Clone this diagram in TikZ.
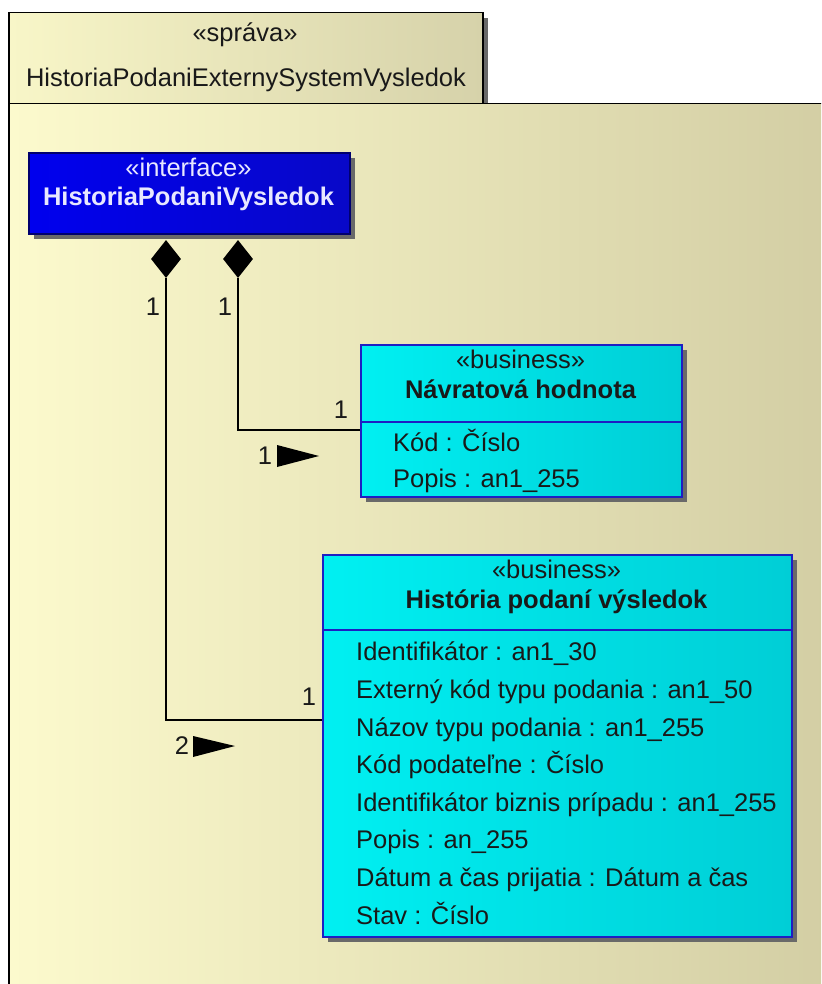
\documentclass[tikz,border=0pt]{standalone}
\usepackage{fontspec}
\setmainfont{Liberation Sans}
\usetikzlibrary{shapes.geometric,shadows}
\definecolor{pkgL}{RGB}{252,250,205}
\definecolor{pkgR}{RGB}{210,205,163}
\definecolor{tabL}{RGB}{248,246,200}
\definecolor{tabR}{RGB}{214,210,170}
\definecolor{cyL}{RGB}{0,240,242}
\definecolor{cyR}{RGB}{0,206,214}
\definecolor{bdr}{RGB}{30,30,195}
\definecolor{ifL}{RGB}{0,0,238}
\definecolor{ifR}{RGB}{8,8,200}
\definecolor{ifB}{RGB}{0,0,110}
\definecolor{ifT}{RGB}{232,232,255}
\definecolor{shd}{RGB}{105,105,105}
\definecolor{txc}{RGB}{25,25,25}
\tikzset{
  txt/.style={inner sep=0pt, text=txc, font=\fontsize{25.5}{30}\selectfont},
  btxt/.style={txt, font=\fontsize{25.5}{30}\selectfont\bfseries},
  boxshadow/.style={drop shadow={shadow xshift=5pt, shadow yshift=-5pt, fill=shd, opacity=1}},
  classbox/.style={draw=bdr, line width=1.6pt, left color=cyL, right color=cyR, boxshadow, anchor=north west, inner sep=0pt},
  ifbox/.style={draw=ifB, line width=1.6pt, left color=ifL, right color=ifR, boxshadow, anchor=north west, inner sep=0pt},
  divider/.style={draw=bdr, line width=1.6pt},
  conn/.style={draw=black, line width=1.8pt},
  comp/.style={diamond, fill=black, minimum width=30pt, minimum height=38pt, inner sep=0pt},
  mult/.style={txt},
  navarrow/.style={fill=black}
}
\begin{document}
\begin{tikzpicture}[x=1pt,y=-1pt]
\useasboundingbox (0,0) rectangle (821,984);
\clip (0,0) rectangle (821,984);
\fill[white] (0,0) rectangle (821,984);
% package tab
\node[draw=black, line width=1.5pt, left color=tabL, right color=tabR, boxshadow, anchor=north west, inner sep=0pt, minimum width=474pt, minimum height=91pt] (tab) at (8,12) {};
\node[txt, anchor=base] (tabst) at (245,42) {«správa»};
\node[txt, anchor=base] (tabname) at (246,87) {HistoriaPodaniExternySystemVysledok};
% package body
\node[draw=black, line width=1.5pt, left color=pkgL, right color=pkgR, anchor=north west, inner sep=0pt, minimum width=840pt, minimum height=920pt] (body) at (8,103) {};
% interface
\node[ifbox, minimum width=321pt, minimum height=81pt] (intf) at (28,152) {};
\node[txt, text=ifT, anchor=base] (intfst) at (188.5,177) {«interface»};
\node[btxt, text=ifT, anchor=base] (intfname) at (188.5,206) {HistoriaPodaniVysledok};
% Navratova hodnota
\node[classbox, minimum width=321pt, minimum height=152pt] (nav) at (360,344) {};
\draw[divider] ([yshift=-78pt]nav.north west) -- ([yshift=-78pt]nav.north east);
\node[txt, anchor=base] (navst) at (520.5,368) {«business»};
\node[btxt, anchor=base] (navname) at (520.5,398) {Návratová hodnota};
\node[txt, anchor=base west] (nava1) at (393,451) {Kód : Číslo};
\node[txt, anchor=base west] (nava2) at (393,487) {Popis : an1\_255};
% Historia podani vysledok
\node[classbox, minimum width=469pt, minimum height=382pt] (hist) at (322,554) {};
\draw[divider] ([yshift=-76pt]hist.north west) -- ([yshift=-76pt]hist.north east);
\node[txt, anchor=base] (histst) at (556.5,578) {«business»};
\node[btxt, anchor=base] (histname) at (556.5,608) {História podaní výsledok};
\node[txt, anchor=base west] (ha1) at (356,660) {Identifikátor : an1\_30};
\node[txt, anchor=base west] (ha2) at (356,698) {Externý kód typu podania : an1\_50};
\node[txt, anchor=base west] (ha3) at (356,736) {Názov typu podania : an1\_255};
\node[txt, anchor=base west] (ha4) at (356,773) {Kód podateľne : Číslo};
\node[txt, anchor=base west] (ha5) at (356,811) {Identifikátor biznis prípadu : an1\_255};
\node[txt, anchor=base west] (ha6) at (356,848) {Popis : an\_255};
\node[txt, anchor=base west] (ha7) at (356,886) {Dátum a čas prijatia : Dátum a čas};
\node[txt, anchor=base west] (ha8) at (356,924) {Stav : Číslo};
% composition diamonds
\node[comp] (d1) at (166,259) {};
\node[comp] (d2) at (238,259) {};
% connectors
\draw[conn] (d1.south) |- ([yshift=26pt]hist.west);
\draw[conn] (d2.south) |- ([yshift=-9pt]nav.west);
% multiplicities
\node[mult] (m1) at (153,307) {1};
\node[mult] (m2) at (225,307) {1};
\node[mult] (m3) at (341,410) {1};
\node[mult] (m4) at (309,697) {1};
\node[mult] (m5) at (265,456) {1};
\node[mult] (m6) at (182,746) {2};
% navigability arrows
\fill[navarrow] (277,445) -- (319,456) -- (277,467) -- cycle;
\fill[navarrow] (193,736) -- (235,746) -- (193,757) -- cycle;
\end{tikzpicture}
\end{document}
